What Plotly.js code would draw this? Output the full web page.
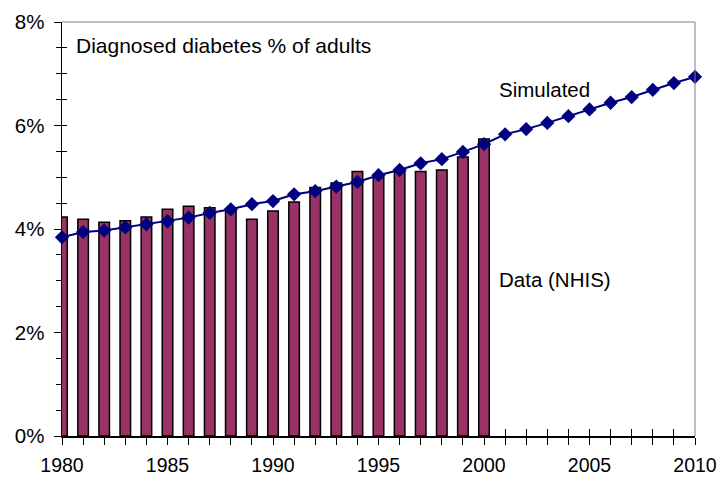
<!DOCTYPE html>
<html>
<head>
<meta charset="utf-8">
<script src="https://cdn.plot.ly/plotly-3.0.1.min.js"></script>
<style>html,body{margin:0;padding:0;background:#fff;}#chart{width:718px;height:481px;}</style>
</head>
<body>
<div id="chart"></div>
<script>
// Data
var dataYears = [1980,1981,1982,1983,1984,1985,1986,1987,1988,1989,1990,
                 1991,1992,1993,1994,1995,1996,1997,1998,1999,2000];
var dataNHIS = [4.23,4.19,4.13,4.16,4.23,4.38,4.44,4.41,4.37,4.19,4.35,
                4.52,4.80,4.89,5.11,5.05,5.14,5.11,5.14,5.39,5.74];
var simYears = [1980,1981,1982,1983,1984,1985,1986,1987,1988,1989,1990,
                1991,1992,1993,1994,1995,1996,1997,1998,1999,2000,
                2001,2002,2003,2004,2005,2006,2007,2008,2009,2010];
var simulated = [3.84,3.94,3.97,4.03,4.09,4.15,4.22,4.31,4.38,4.48,4.54,
                 4.67,4.73,4.82,4.91,5.04,5.14,5.27,5.35,5.49,5.64,
                 5.83,5.93,6.05,6.18,6.31,6.44,6.55,6.69,6.82,6.94];
var xTickVals = simYears;
var xTickText = simYears.map(function(y){ return (y % 5 === 0) ? String(y) : ''; });
var yTickVals = [0,2,4,6,8];
var yTickText = ['0%','2%','4%','6%','8%'];

var font = 'Arial, "Liberation Sans", sans-serif';

var traces = [
  {
    type: 'bar', x: dataYears, y: dataNHIS, width: 0.5,
    marker: {color: '#993366', line: {color: '#000000', width: 1.5}},
    hoverinfo: 'skip', showlegend: false
  },
  {
    type: 'scatter', mode: 'lines+markers', x: simYears, y: simulated,
    line: {color: '#000080', width: 2},
    marker: {symbol: 'diamond', size: 11, color: '#000080'},
    cliponaxis: false, hoverinfo: 'skip', showlegend: false
  },
  {
    // invisible helper so the overlay axes (inner tick halves) are drawn
    type: 'scatter', mode: 'lines', x: simYears, y: simulated,
    xaxis: 'x2', yaxis: 'y2', opacity: 0, line: {width: 0},
    hoverinfo: 'skip', showlegend: false
  }
];

var layout = {
  width: 718, height: 481,
  margin: {l: 62, r: 23, t: 22, b: 45},
  paper_bgcolor: '#ffffff', plot_bgcolor: '#ffffff',
  font: {family: font, size: 19, color: '#000000'},
  bargap: 0,
  xaxis: {
    range: [1980, 2010], tickmode: 'array', tickvals: xTickVals, ticktext: xTickText,
    showgrid: false, zeroline: false, showline: true, linecolor: '#000000', linewidth: 1.5,
    ticks: 'outside', ticklen: 7, tickwidth: 1, tickcolor: '#000000', ticklabelstandoff: 4,
    tickfont: {family: font, size: 19.5, color: '#000000'}
  },
  yaxis: {
    range: [0, 8], tickmode: 'array', tickvals: yTickVals, ticktext: yTickText,
    showgrid: false, zeroline: false, showline: true, linecolor: '#000000', linewidth: 1.5,
    ticks: 'outside', ticklen: 7, tickwidth: 1, tickcolor: '#000000', ticklabelstandoff: 5,
    minor: {dtick: 0.5, ticks: 'outside', ticklen: 5, tickcolor: '#000000', tickwidth: 1},
    tickfont: {family: font, size: 20.5, color: '#000000'}
  },
  xaxis2: {
    overlaying: 'x', anchor: 'y', range: [1980, 2010], dtick: 1, tick0: 1980,
    showticklabels: false, showgrid: false, zeroline: false, showline: false,
    ticks: 'inside', ticklen: 7, tickwidth: 1, tickcolor: '#000000', layer: 'below traces'
  },
  yaxis2: {
    overlaying: 'y', anchor: 'x', range: [0, 8], dtick: 0.5, tick0: 0,
    showticklabels: false, showgrid: false, zeroline: false, showline: false,
    ticks: 'inside', ticklen: 5, tickwidth: 1, tickcolor: '#000000', layer: 'below traces'
  },
  shapes: [
    {type: 'line', xref: 'paper', yref: 'paper', x0: 0, x1: 1, y0: 1, y1: 1,
     line: {color: '#808080', width: 1}},
    {type: 'line', xref: 'paper', yref: 'paper', x0: 1, x1: 1, y0: 0, y1: 1,
     line: {color: '#808080', width: 1}}
  ],
  annotations: [
    {xref: 'x', yref: 'y', x: 1980.55, y: 7.55, xanchor: 'left', yanchor: 'middle',
     text: 'Diagnosed diabetes % of adults', showarrow: false,
     font: {family: font, size: 21, color: '#000000'}},
    {xref: 'x', yref: 'y', x: 2000.6, y: 6.7, xanchor: 'left', yanchor: 'middle',
     text: 'Simulated', showarrow: false,
     font: {family: font, size: 20.5, color: '#000000'}},
    {xref: 'x', yref: 'y', x: 2000.6, y: 3.02, xanchor: 'left', yanchor: 'middle',
     text: 'Data (NHIS)', showarrow: false,
     font: {family: font, size: 20.5, color: '#000000'}}
  ]
};

Plotly.newPlot('chart', traces, layout, {displayModeBar: false, staticPlot: true});
</script>
</body>
</html>
